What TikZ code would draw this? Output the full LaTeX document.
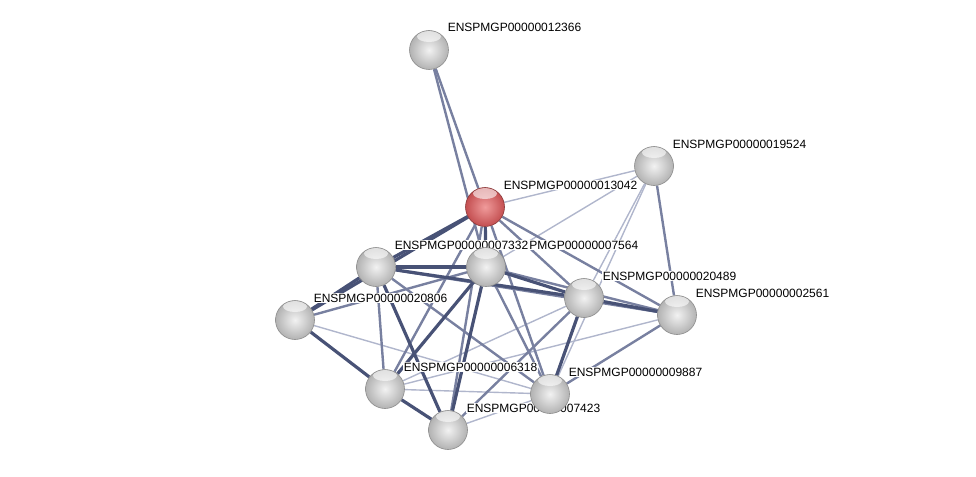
\documentclass[tikz,border=0pt]{standalone}
\usepackage{fontspec}
\setmainfont{Liberation Sans}
\usetikzlibrary{backgrounds}

\definecolor{edgedark}{RGB}{72,82,118}
\definecolor{edgemid}{RGB}{120,128,160}
\definecolor{edgelight}{RGB}{176,182,204}
\definecolor{ballin}{RGB}{242,242,242}
\definecolor{ballout}{RGB}{178,178,178}
\definecolor{redin}{RGB}{240,155,155}
\definecolor{redout}{RGB}{195,78,80}

\pgfdeclarelayer{edges}
\pgfdeclarelayer{labels}
\pgfsetlayers{edges,labels,main}

\begin{document}
\begin{tikzpicture}[
    x=1pt, y=-1pt,
    every node/.style={font=\fontsize{12}{14}\selectfont},
    prot/.style={circle, minimum size=39pt, inner sep=0pt,
      draw=black!45, line width=0.6pt,
      inner color=ballin, outer color=ballout,
      path picture={\fill[white, opacity=0.6]
        ([yshift=-6pt]path picture bounding box.north) ellipse (12pt and 5.5pt);}},
    query/.style={inner color=redin, outer color=redout, draw=redout!70!black},
    lbl/.style={anchor=base west, fill=white, inner sep=0.6pt},
    strong/.style={draw=edgedark, line width=3.2pt},
    mid/.style={draw=edgemid, line width=2.4pt},
    weak/.style={draw=edgelight, line width=1.4pt},
  ]
  \useasboundingbox (0,0) rectangle (976,476);

  % proteins
  \foreach \id/\px/\py in {12366/429/50, 19524/654/166, 7332/376/267,
      7564/486/267, 20489/584/298, 2561/677/315, 20806/295/320,
      6318/385/389, 9887/550/394, 7423/448/430}
    \node[prot] (p\id) at (\px,\py) {};
  \node[prot, query] (p13042) at (485,207) {};

  % names
  \begin{pgfonlayer}{labels}
    \foreach \id/\txt in {12366/ENSPMGP00000012366, 19524/ENSPMGP00000019524,
        13042/ENSPMGP00000013042, 7564/ENSPMGP00000007564,
        7332/ENSPMGP00000007332, 20489/ENSPMGP00000020489,
        2561/ENSPMGP00000002561, 20806/ENSPMGP00000020806,
        6318/ENSPMGP00000006318, 9887/ENSPMGP00000009887,
        7423/ENSPMGP00000007423}
      \node[lbl] (n\id) at ([shift={(18,-18)}]p\id.center) {\txt};
  \end{pgfonlayer}

  % interactions
  \begin{pgfonlayer}{edges}
    \foreach \a/\b in {13042/19524, 7564/19524, 19524/20489, 19524/9887,
        20489/6318, 2561/6318, 20806/9887, 6318/9887, 7423/9887}
      \draw[weak] (p\a) -- (p\b);
    \foreach \a/\b in {12366/13042, 12366/7564, 13042/20489, 13042/2561,
        13042/6318, 13042/7423, 13042/9887, 7332/2561, 7332/6318,
        7332/9887, 7564/2561, 7564/9887, 7564/20806, 20489/7423,
        2561/9887, 19524/2561}
      \draw[mid] (p\a) -- (p\b);
    \foreach \a/\b in {13042/7332, 13042/7564, 13042/20806, 7332/7564,
        7332/20489, 7332/20806, 7332/7423, 7564/20489, 7564/6318,
        7564/7423, 20489/2561, 20489/9887, 20806/6318, 6318/7423}
      \draw[strong] (p\a) -- (p\b);
  \end{pgfonlayer}
\end{tikzpicture}
\end{document}
